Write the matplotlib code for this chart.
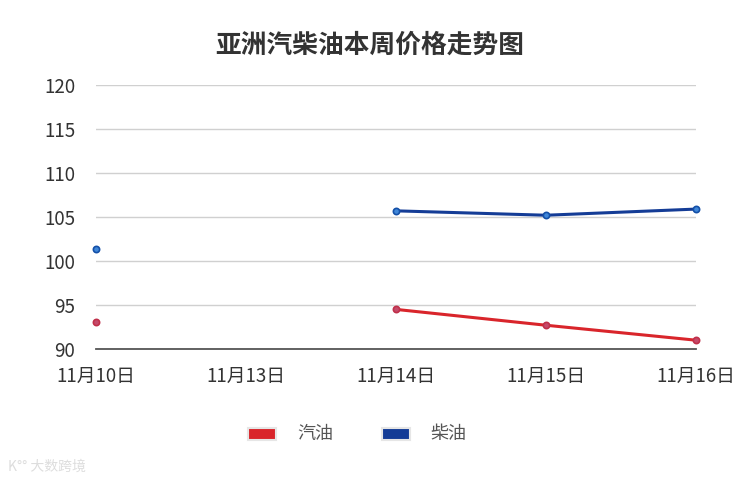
import numpy as np
import matplotlib
matplotlib.use("Agg")
import matplotlib.pyplot as plt
from matplotlib.patches import Rectangle

plt.rcParams['font.family'] = ['Noto Sans CJK SC', 'DejaVu Sans']

categories = ["11月10日", "11月13日", "11月14日", "11月15日", "11月16日"]
gasoline = [93.1, np.nan, 94.5, 92.7, 91.0]
diesel = [101.4, np.nan, 105.7, 105.2, 105.9]
series_names = ["汽油", "柴油"]
yticks = [90, 95, 100, 105, 110, 115, 120]
title = "亚洲汽柴油本周价格走势图"

fig = plt.figure(figsize=(7.39, 4.83), dpi=100)
ax = fig.add_axes([96/739, 1-349/483, 600/739, 264/483])

x = np.arange(len(categories))
gas_line = "#d9252b"
dsl_line = "#143c96"
ax.plot(x, gasoline, color=gas_line, lw=2.2, marker='o', ms=4.5,
        mfc="#c44a6a", mec="#c0304a", mew=1.2, zorder=3, clip_on=False)
ax.plot(x, diesel, color=dsl_line, lw=2.2, marker='o', ms=4.5,
        mfc="#3f86d8", mec="#1450a8", mew=1.2, zorder=3, clip_on=False)

ax.set_xlim(0, len(categories)-1)
ax.set_ylim(90, 120)
ax.set_yticks(yticks)
ax.set_xticks(x)
ax.set_xticklabels(categories)
ax.grid(axis='y', color='#d0d0d0', lw=1)
ax.set_axisbelow(True)
for s in ['top', 'right', 'left']:
    ax.spines[s].set_visible(False)
ax.spines['bottom'].set_color('#555555')
ax.spines['bottom'].set_linewidth(1.3)
ax.tick_params(axis='both', length=0, labelsize=13.5, colors='#333333')
ax.tick_params(axis='y', pad=15)
ax.tick_params(axis='x', pad=12)

fig.text(370/739, 1-45/483, title, ha='center', va='center',
         fontsize=18.5, fontweight='bold', color='#333333')

# legend
cols = [gas_line, dsl_line]
px = [248, 382]
tx = [297, 430]
for i in range(2):
    r = Rectangle((px[i]/739, 1-440/483), 28/739, 12/483, transform=fig.transFigure,
                  facecolor=cols[i], edgecolor='#e6e6e6', lw=1.5)
    fig.add_artist(r)
    fig.text(tx[i]/739, 1-434/483, series_names[i], ha='left', va='center',
             fontsize=13, color='#555555')

fig.text(8/739, 1-467/483, "K°° 大数跨境", ha='left', va='center',
         fontsize=10, color='#dddddd')

fig.savefig("out.png", dpi=100)
